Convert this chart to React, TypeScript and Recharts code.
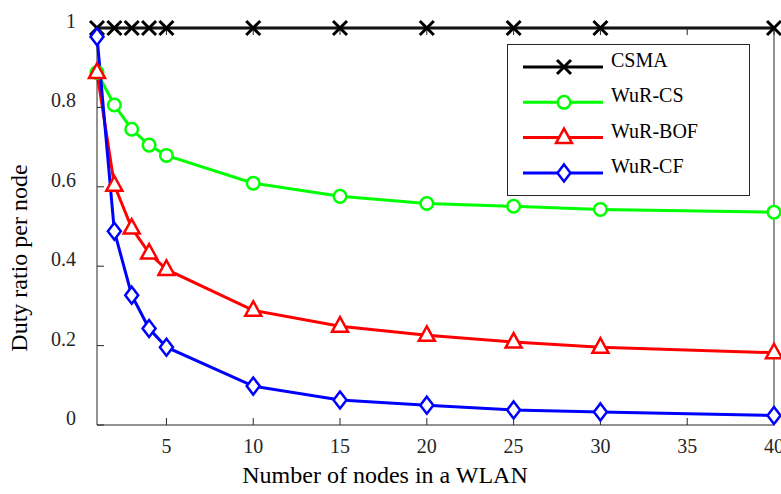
import React from 'react';
import { LineChart, Line, XAxis, YAxis, Legend } from 'recharts';

const nodes = [1, 2, 3, 4, 5, 10, 15, 20, 25, 30, 40];
const csma = [1, 1, 1, 1, 1, 1, 1, 1, 1, 1, 1];
const wurCS = [0.888, 0.806, 0.745, 0.705, 0.679, 0.609, 0.576, 0.558, 0.551, 0.543, 0.536];
const wurBOF = [0.888, 0.604, 0.496, 0.433, 0.392, 0.289, 0.249, 0.226, 0.209, 0.196, 0.182];
const wurCF = [0.978, 0.488, 0.327, 0.243, 0.196, 0.098, 0.063, 0.05, 0.038, 0.033, 0.024];

const xTicks = [5, 10, 15, 20, 25, 30, 35, 40];
const yTicks = [0, 0.2, 0.4, 0.6, 0.8, 1];
const yTickLabels = ['0', '0.2', '0.4', '0.6', '0.8', '1'];

const seriesNames = ['CSMA', 'WuR-CS', 'WuR-BOF', 'WuR-CF'];
const seriesColors = ['#000000', '#00ff00', '#ff0000', '#0000ff'];
const seriesMarkers = ['cross', 'circle', 'triangle', 'diamond'];
const seriesKeys = ['csma', 'cs', 'bof', 'cf'];

const data = nodes.map((n, i) => ({
  n,
  csma: csma[i],
  cs: wurCS[i],
  bof: wurBOF[i],
  cf: wurCF[i],
}));

const FONT = '"Liberation Serif", "Times New Roman", serif';
const AXIS = '#262626';

function Marker({ kind, cx, cy, color }: { kind: string; cx: number; cy: number; color: string }) {
  if (kind === 'cross') {
    const h = 7;
    return (
      <g stroke={color} strokeWidth={3} fill="none">
        <line x1={cx - h} y1={cy - h} x2={cx + h} y2={cy + h} />
        <line x1={cx - h} y1={cy + h} x2={cx + h} y2={cy - h} />
      </g>
    );
  }
  if (kind === 'circle') {
    return <circle cx={cx} cy={cy} r={6.3} stroke={color} strokeWidth={2.5} fill="#ffffff" />;
  }
  if (kind === 'triangle') {
    const pts = `${cx},${cy - 9} ${cx - 8},${cy + 5.5} ${cx + 8},${cy + 5.5}`;
    return <polygon points={pts} stroke={color} strokeWidth={2.5} fill="#ffffff" strokeLinejoin="miter" />;
  }
  const pts = `${cx},${cy - 8.5} ${cx + 6.5},${cy} ${cx},${cy + 8.5} ${cx - 6.5},${cy}`;
  return <polygon points={pts} stroke={color} strokeWidth={2.5} fill="#ffffff" />;
}

const makeDot = (kind: string, color: string) => (props: any) => {
  const { cx, cy, index } = props;
  if (cx == null || cy == null) return <g key={`d-${kind}-${index}`} />;
  return (
    <g key={`d-${kind}-${index}`}>
      <Marker kind={kind} cx={cx} cy={cy} color={color} />
    </g>
  );
};

const LeftTick = (props: any) => {
  const { x, y, payload } = props;
  const idx = yTicks.indexOf(payload.value);
  return (
    <text x={x} y={y} textAnchor="end" fontFamily={FONT} fontSize={20} fill={AXIS}>
      {idx >= 0 ? yTickLabels[idx] : String(payload.value)}
    </text>
  );
};

const BottomTick = (props: any) => {
  const { x, y, payload } = props;
  return (
    <text x={x} y={y} textAnchor="middle" fontFamily={FONT} fontSize={20} fill={AXIS}>
      {String(payload.value)}
    </text>
  );
};

const EmptyTick = () => <g />;

const LegendBox = () => (
  <div
    style={{
      width: 243,
      height: 152,
      boxSizing: 'border-box',
      border: `1px solid ${AXIS}`,
      background: '#ffffff',
      position: 'relative',
    }}
  >
    <svg width={243} height={152} style={{ position: 'absolute', left: -1, top: -1 }}>
      {seriesNames.map((name, i) => {
        const y = 23 + i * 35.3;
        return (
          <g key={name}>
            <line x1={16} y1={y} x2={96} y2={y} stroke={seriesColors[i]} strokeWidth={3} />
            <Marker kind={seriesMarkers[i]} cx={57} cy={y} color={seriesColors[i]} />
            <text x={104} y={y} fontFamily={FONT} fontSize={20} fill="#000000">
              {name}
            </text>
          </g>
        );
      })}
    </svg>
  </div>
);

export default function App() {
  return (
    <div style={{ position: 'absolute', left: 0, top: 0, width: 781, height: 494, background: '#ffffff' }}>
      <LineChart width={781} height={494} data={data} margin={{ top: 0, right: 0, bottom: 0, left: 0 }}>
        <XAxis
          xAxisId="bottom"
          dataKey="n"
          type="number"
          domain={[1, 40]}
          ticks={xTicks}
          interval={0}
          height={69}
          orientation="bottom"
          tickSize={-7}
          tickMargin={35}
          tick={BottomTick}
          stroke={AXIS}
          axisLine={{ stroke: AXIS, strokeWidth: 1 }}
          tickLine={{ stroke: AXIS, strokeWidth: 1 }}
          label={{
            content: () => (
              <text x={385} y={483} textAnchor="middle" fontFamily={FONT} fontSize={24} fill="#000000">
                Number of nodes in a WLAN
              </text>
            ),
          }}
        />
        <XAxis
          xAxisId="top"
          dataKey="n"
          type="number"
          domain={[1, 40]}
          ticks={xTicks}
          interval={0}
          height={28}
          orientation="top"
          tickSize={-7}
          tick={EmptyTick}
          axisLine={{ stroke: AXIS, strokeWidth: 1 }}
          tickLine={{ stroke: AXIS, strokeWidth: 1 }}
        />
        <YAxis
          yAxisId="left"
          type="number"
          domain={[0, 1]}
          ticks={yTicks}
          interval={0}
          width={97}
          orientation="left"
          tickSize={-7}
          tickMargin={28}
          tick={LeftTick}
          axisLine={{ stroke: AXIS, strokeWidth: 1 }}
          tickLine={{ stroke: AXIS, strokeWidth: 1 }}
          label={{
            content: () => (
              <text
                x={27}
                y={258}
                transform="rotate(-90, 27, 258)"
                textAnchor="middle"
                fontFamily={FONT}
                fontSize={24}
                fill="#000000"
              >
                Duty ratio per node
              </text>
            ),
          }}
        />
        <YAxis
          yAxisId="right"
          type="number"
          domain={[0, 1]}
          ticks={yTicks}
          interval={0}
          width={7}
          orientation="right"
          tickSize={-7}
          tick={EmptyTick}
          axisLine={{ stroke: AXIS, strokeWidth: 1 }}
          tickLine={{ stroke: AXIS, strokeWidth: 1 }}
        />
        <Legend
          layout="vertical"
          align="center"
          verticalAlign="middle"
          wrapperStyle={{ left: 507, top: 44, width: 243, height: 152 }}
          content={() => <LegendBox />}
        />
        {seriesKeys.map((k, i) => (
          <Line
            key={k}
            xAxisId="bottom"
            yAxisId="left"
            type="linear"
            dataKey={k}
            name={seriesNames[i]}
            stroke={seriesColors[i]}
            strokeWidth={3}
            dot={makeDot(seriesMarkers[i], seriesColors[i])}
            activeDot={false}
            isAnimationActive={false}
          />
        ))}
      </LineChart>
    </div>
  );
}
